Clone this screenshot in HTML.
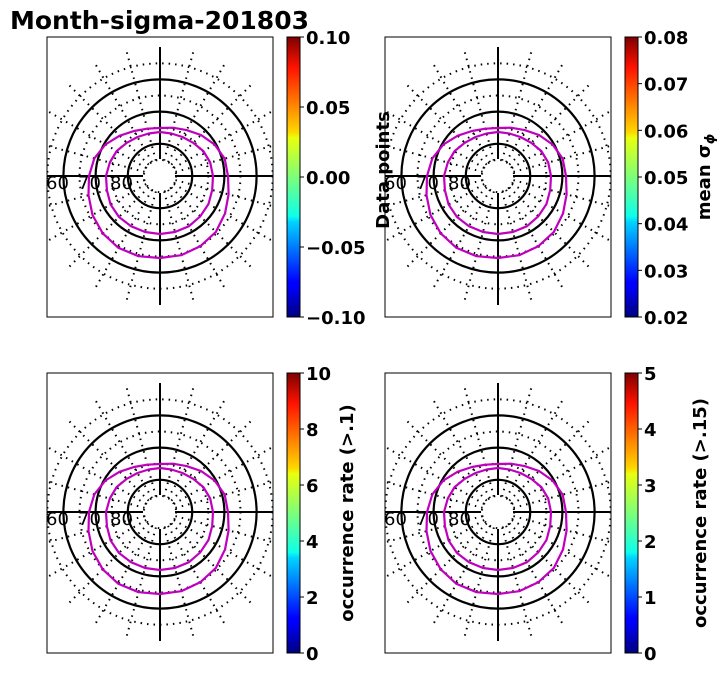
<!DOCTYPE html>
<html><head><meta charset="utf-8"><style>
html,body{margin:0;padding:0;background:#fff}
svg{display:block;font-family:"DejaVu Sans","Liberation Sans",sans-serif}
</style></head><body>
<svg id="fig" width="727" height="674" viewBox="0 0 727 674" xmlns="http://www.w3.org/2000/svg">
<defs>
<linearGradient id="jet" x1="0" y1="1" x2="0" y2="0">
<stop offset="0" stop-color="#00007f"/><stop offset="0.11" stop-color="#0000ff"/>
<stop offset="0.125" stop-color="#0000ff"/><stop offset="0.34" stop-color="#00d4ff"/>
<stop offset="0.36" stop-color="#0dffea"/><stop offset="0.5" stop-color="#7dff7a"/>
<stop offset="0.64" stop-color="#eaff0d"/><stop offset="0.66" stop-color="#ffd700"/>
<stop offset="0.89" stop-color="#ff1300"/><stop offset="1" stop-color="#7f0000"/>
</linearGradient>
</defs>
<text x="10" y="29" font-size="25" font-weight="bold">Month-sigma-201803</text>
<g id="panels"></g>
</svg>
<script>
// contour data: colatitude-in-pixels at 24 angles (every 15°, counterclockwise from east)
const contourAngles = [0,15,30,45,60,75,90,105,120,135,150,165,180,195,210,225,240,255,270,285,300,315,330,345];
const outerContour = [68,67,63,58,53,50,48,49,52,57,63,68,71,74,78,81,83,83,82,82,81,79,75,71];
const innerContour = [53,52,50,47,45,44,44,44,45,47,50,52,54,55,57,58,58,58,58,58,58,57,56,54];
const solidLats = [80,70,60];
const dottedLats = [85,75,65,55];
const latLabels = ["60","70","80"];
const cbTicks1 = ["0.10","0.05","0.00","\u22120.05","\u22120.10"];
const cbTicks2 = ["0.08","0.07","0.06","0.05","0.04","0.03","0.02"];
const cbTicks3 = ["10","8","6","4","2","0"];
const cbTicks4 = ["5","4","3","2","1","0"];

const NS="http://www.w3.org/2000/svg";
const root=document.getElementById('panels');
function mk(tag,attrs,parent){const e=document.createElementNS(NS,tag);for(const k in attrs)e.setAttribute(k,attrs[k]);(parent||root).appendChild(e);return e;}
const rOfLat = lat => (90-lat)*3.22;

const panels=[
 {x:47,y:37,cbx:287,ticks:cbTicks1,label:null,name:'panel-top-left'},
 {x:385,y:37,cbx:625,ticks:cbTicks2,label:'mean \u03c3',sub:'\u03d5',name:'panel-top-right'},
 {x:47,y:373,cbx:287,ticks:cbTicks3,label:'occurrence rate (>.1)',name:'panel-bottom-left'},
 {x:385,y:373,cbx:625,ticks:cbTicks4,label:'occurrence rate (>.15)',name:'panel-bottom-right'}
];
panels.forEach((p,pi)=>{
  const g=mk('g',{});
  
  
  const W=226,H=280,cx=p.x+113,cy=p.y+139;
  const cid='clip'+pi;
  const cp=mk('clipPath',{id:cid},g);mk('rect',{x:p.x,y:p.y,width:W,height:H},cp);
  const bg=mk('rect',{x:p.x,y:p.y,width:W,height:H,fill:'#fff'},g);
  
  
  const m=mk('g',{'clip-path':'url(#'+cid+')'},g);
  for(let a=0;a<360;a+=15){
    if(a%90===0)continue;
    const t=a*Math.PI/180,r0=16,r1=131;
    const l=mk('line',{x1:cx+r0*Math.cos(t),y1:cy-r0*Math.sin(t),x2:cx+r1*Math.cos(t),y2:cy-r1*Math.sin(t),stroke:'#000','stroke-width':2,'stroke-dasharray':'1.5 5'},m);
    
    
  }
  dottedLats.forEach(lat=>{
    const c=mk('circle',{cx:cx,cy:cy,r:rOfLat(lat),fill:'none',stroke:'#000','stroke-width':2,'stroke-dasharray':'1.5 5'},m);
    
    
  });
  solidLats.forEach(lat=>{
    const c=mk('circle',{cx:cx,cy:cy,r:rOfLat(lat),fill:'none',stroke:'#000','stroke-width':2.2},m);
    
    
  });
  [[cx,p.y+10,cx,cy-17],[cx,cy+17,cx,p.y+268],[p.x,cy,cx-17,cy],[cx+15,cy,p.x+W,cy]].forEach(s=>{
    const l=mk('line',{x1:s[0],y1:s[1],x2:s[2],y2:s[3],stroke:'#000','stroke-width':2},m);
    
    
  });
  [outerContour,innerContour].forEach((arr,ci)=>{
    const pts=contourAngles.map((a,i)=>{const t=a*Math.PI/180;return (cx+arr[i]*Math.cos(t)).toFixed(1)+','+(cy-arr[i]*Math.sin(t)).toFixed(1);}).join(' ');
    const pg=mk('polygon',{points:pts,fill:'none',stroke:'#bf00bf','stroke-width':2.2,'stroke-linejoin':'round'},m);
    
    
  });
  latLabels.forEach((s,i)=>{
    const t=mk('text',{x:p.x+i*32-1,y:cy+13,'font-size':18},g);t.textContent=s;
    
    
  });
  const fr=mk('rect',{x:p.x,y:p.y,width:W,height:H,fill:'none',stroke:'#000','stroke-width':1},g);
  
  
  const cb=mk('rect',{x:p.cbx,y:p.y,width:13,height:H,fill:'url(#jet)',stroke:'#000','stroke-width':1},g);
  
  
  const n=p.ticks.length;
  p.ticks.forEach((s,i)=>{
    const y=p.y+H*i/(n-1);
    const tk=mk('line',{x1:p.cbx+13,y1:y,x2:p.cbx+17,y2:y,stroke:'#000','stroke-width':1},g);
    
    
    const t=mk('text',{x:p.cbx+19,y:y+7,'font-size':18,'font-weight':'bold'},g);t.textContent=s;
    
    
  });
  if(p.label){
    const lx=(pi===1)?p.cbx+85:(pi===2?p.cbx+66:p.cbx+81);
    const ly=p.y+H/2;
    const t=mk('text',{x:lx,y:ly,'font-size':18,'font-weight':'bold','text-anchor':'middle',transform:'rotate(-90 '+lx+' '+ly+')'},g);
    t.textContent=p.label;
    if(p.sub){const ts=mk('tspan',{'font-size':13,dy:4,'font-style':'italic'},t);ts.textContent=p.sub;}
    
    
  }
});
const dp=mk('text',{x:389,y:170,'font-size':18,'font-weight':'bold','text-anchor':'middle',transform:'rotate(-90 389 170)'});
dp.textContent='Data points';


</script>
</body></html>
